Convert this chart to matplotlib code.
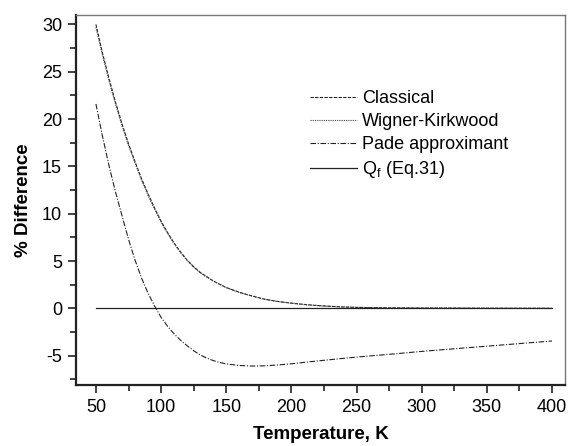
import matplotlib
matplotlib.use('Agg')
import matplotlib.pyplot as plt
from matplotlib.ticker import MultipleLocator

plt.rcParams['font.family'] = ['Liberation Sans', 'DejaVu Sans']
plt.rcParams['mathtext.fontset'] = 'custom'
plt.rcParams['mathtext.rm'] = 'Liberation Sans'
plt.rcParams['mathtext.it'] = 'Liberation Sans'
plt.rcParams['axes.unicode_minus'] = False

# values
temp_cl = [50, 55, 60, 65, 70, 75, 80, 85, 90, 95, 100, 105, 110, 115, 120, 125, 130, 140, 150,
           160, 170, 180, 190, 200, 212, 225, 237, 250, 275, 300, 350, 400]
classical = [30.0, 27.0, 24.3, 21.8, 19.5, 17.4, 15.5, 13.7, 12.1, 10.6, 9.2, 8.0, 6.9, 5.95, 5.1,
             4.4, 3.8, 2.9, 2.2, 1.7, 1.3, 0.95, 0.72, 0.55, 0.38, 0.25, 0.16, 0.1, 0.05, 0.03,
             0.01, 0.0]
wigner = [29.7, 26.75, 24.05, 21.6, 19.3, 17.2, 15.35, 13.55, 11.95, 10.5, 9.1, 7.9, 6.82, 5.88,
          5.05, 4.35, 3.76, 2.87, 2.18, 1.68, 1.28, 0.94, 0.71, 0.54, 0.37, 0.24, 0.16, 0.1, 0.05,
          0.03, 0.01, 0.0]

temp_pd = [50, 55, 60, 65, 70, 75, 80, 85, 90, 95, 100, 105, 110, 115, 120, 125, 130, 135, 140,
           145, 150, 160, 170, 180, 190, 200, 220, 250, 280, 300, 350, 400]
pade = [21.6, 18.2, 15.1, 12.3, 9.8, 7.3, 5.1, 3.2, 1.6, 0.25, -0.95, -1.9, -2.7, -3.37, -3.95,
        -4.48, -4.92, -5.25, -5.52, -5.72, -5.87, -6.04, -6.1, -6.07, -5.98, -5.86, -5.56, -5.15,
        -4.8, -4.55, -4.0, -3.45]

temp_qf = [50, 400]
qf = [0, 0]

fig = plt.figure(figsize=(5.68, 4.46), dpi=100)
ax = fig.add_axes([0.1338, 0.1368, 0.8609, 0.8296])

ax.plot(temp_cl, classical, color='#222222', lw=0.8, ls=(0, (3, 1.2)), label='Classical')
ax.plot(temp_cl, wigner, color='#444444', lw=0.8, ls=(0, (1, 1)), label='Wigner-Kirkwood')
ax.plot(temp_pd, pade, color='#222222', lw=0.8, ls=(0, (5, 1.5, 1, 1.5)), label='Pade approximant')
ax.plot(temp_qf, qf, color='#222222', lw=0.9, label=r'Q$_\mathregular{f}$ (Eq.31)')

ax.set_xlim(34.7, 410)
ax.set_ylim(-8.1, 31)
ax.xaxis.set_major_locator(MultipleLocator(50))
ax.xaxis.set_minor_locator(MultipleLocator(25))
ax.yaxis.set_major_locator(MultipleLocator(5))
ax.yaxis.set_minor_locator(MultipleLocator(2.5))
ax.tick_params(which='both', direction='out', labelsize=13, width=1.2, color='#222222')
ax.tick_params(which='major', length=6, pad=4)
ax.tick_params(which='minor', length=4)
ax.tick_params(axis='x', which='both', top=False)
ax.tick_params(axis='y', which='both', right=False)

for s in ['left', 'bottom']:
    ax.spines[s].set_linewidth(1.6)
    ax.spines[s].set_color('#222222')
for s in ['top', 'right']:
    ax.spines[s].set_linewidth(1.0)
    ax.spines[s].set_color('#777777')

ax.set_xlabel('Temperature, K', fontsize=13.5, fontweight='bold', labelpad=7)
ax.set_ylabel('% Difference', fontsize=13.5, fontweight='bold', labelpad=7)

ax.legend(loc='upper left', bbox_to_anchor=(0.478, 0.797), frameon=False, fontsize=13,
          handlelength=2.6, handletextpad=0.28, labelspacing=0.33, borderaxespad=0,
          borderpad=0)

fig.savefig('out.png', dpi=100)
